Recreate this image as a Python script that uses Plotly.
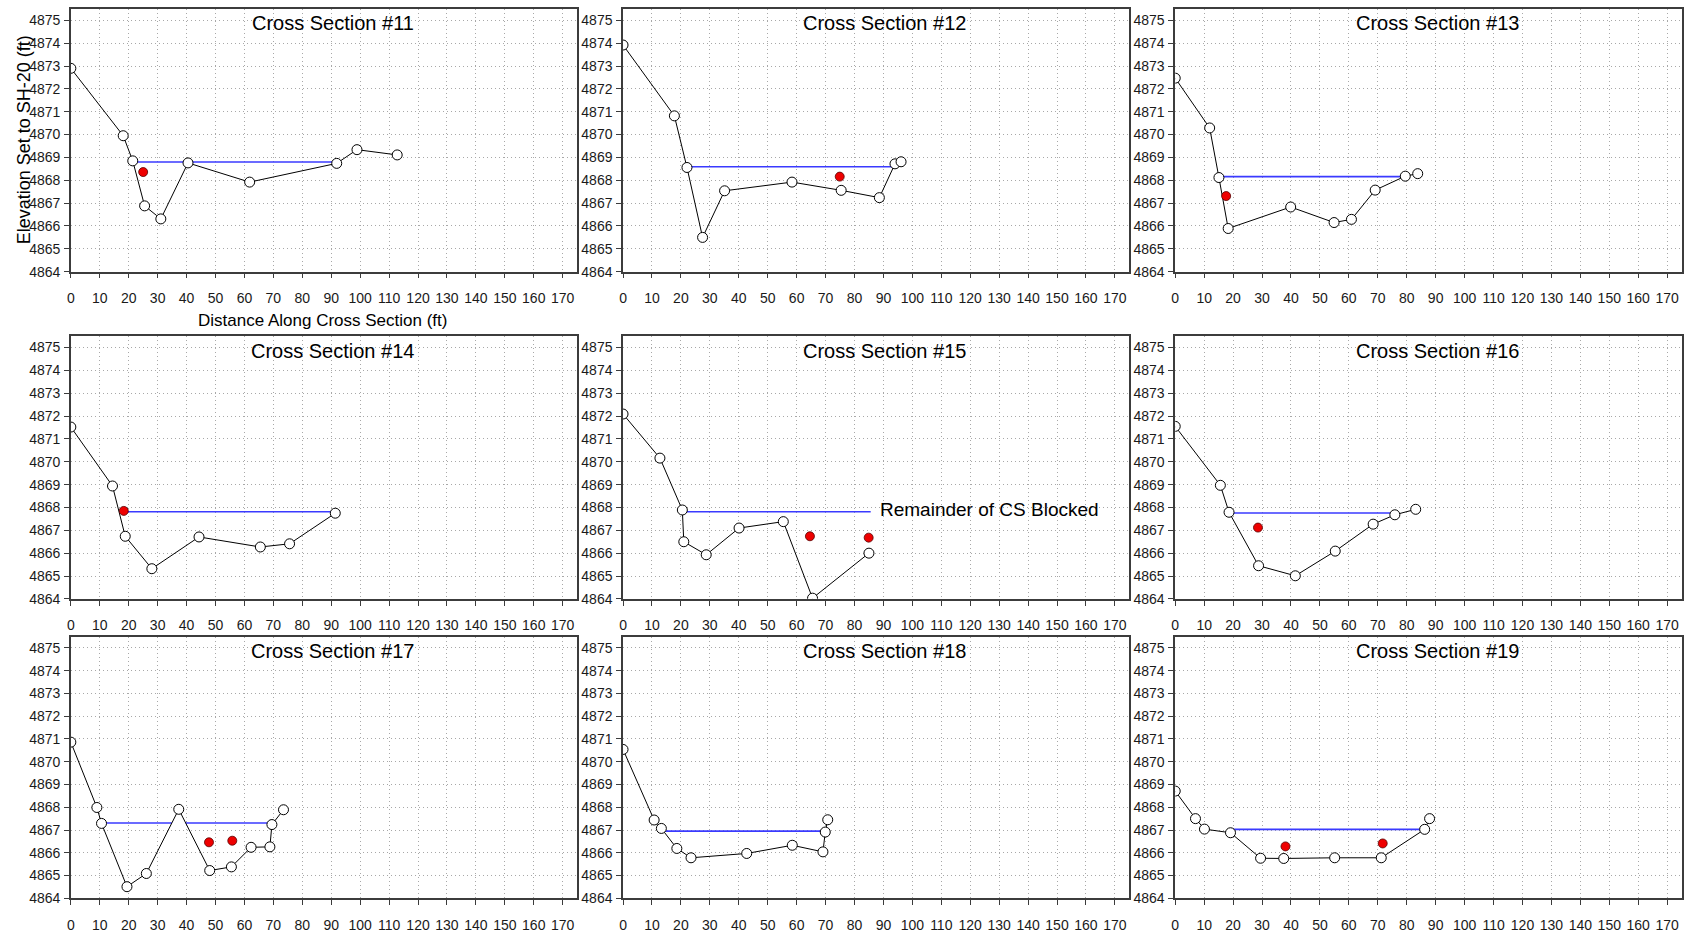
import plotly.graph_objects as go

# ---- survey data: station (ft) and ground elevation (ft) for each cross section ----
section_names = ["Cross Section #11", "Cross Section #12", "Cross Section #13",
                 "Cross Section #14", "Cross Section #15", "Cross Section #16",
                 "Cross Section #17", "Cross Section #18", "Cross Section #19"]

cs11_sta = [0, 18.1, 21.4, 25.5, 31.1, 40.5, 61.8, 91.9, 98.9, 112.8]
cs11_elev = [4872.9, 4869.95, 4868.85, 4866.88, 4866.31, 4868.76, 4867.92, 4868.74, 4869.34, 4869.11]

cs12_sta = [0, 17.75, 22.1, 27.5, 35.1, 58.4, 75.4, 88.6, 94.0, 96.1]
cs12_elev = [4873.92, 4870.82, 4868.56, 4865.5, 4867.54, 4867.92, 4867.56, 4867.24, 4868.72, 4868.81]

cs13_sta = [0, 11.9, 15.1, 18.3, 39.9, 54.9, 60.9, 69.1, 79.5, 83.8]
cs13_elev = [4872.47, 4870.29, 4868.12, 4865.89, 4866.83, 4866.15, 4866.29, 4867.57, 4868.18, 4868.29]

cs14_sta = [0, 14.4, 18.8, 28.0, 44.3, 65.5, 75.6, 91.4]
cs14_elev = [4871.52, 4868.94, 4866.74, 4865.32, 4866.71, 4866.27, 4866.41, 4867.75]

cs15_sta = [0, 12.75, 20.5, 21.0, 28.75, 40.1, 55.4, 65.5, 85.0]
cs15_elev = [4872.09, 4870.16, 4867.89, 4866.5, 4865.93, 4867.1, 4867.38, 4864.03, 4866.0]

cs16_sta = [0, 15.6, 18.6, 28.8, 41.5, 55.3, 68.4, 75.9, 83.1]
cs16_elev = [4871.55, 4868.97, 4867.79, 4865.45, 4865.01, 4866.09, 4867.27, 4867.68, 4867.92]

cs17_sta = [0, 9.0, 10.6, 19.4, 26.1, 37.3, 48.0, 55.5, 62.3, 68.8, 69.5, 73.5]
cs17_elev = [4870.86, 4867.99, 4867.29, 4864.51, 4865.09, 4867.91, 4865.22, 4865.38, 4866.24, 4866.26, 4867.24, 4867.89]

cs18_sta = [0, 10.75, 13.25, 18.6, 23.5, 42.75, 58.5, 69.1, 69.9, 70.75]
cs18_elev = [4870.54, 4867.44, 4867.07, 4866.19, 4865.78, 4865.97, 4866.33, 4866.04, 4866.91, 4867.45]

cs19_sta = [0, 7.0, 10.1, 19.1, 29.5, 37.5, 55.1, 71.2, 86.2, 87.9]
cs19_elev = [4868.71, 4867.5, 4867.04, 4866.88, 4865.76, 4865.75, 4865.78, 4865.78, 4867.03, 4867.5]

# ---- water surface: list of (start station, end station) spans and the elevation ----
ws11_span = [(22.3, 91.5)]
ws11_elev = 4868.8
ws12_span = [(22.1, 93.8)]
ws12_elev = 4868.59
ws13_span = [(15.4, 79.5)]
ws13_elev = 4868.16
ws14_span = [(18.5, 91.4)]
ws14_elev = 4867.81
ws15_span = [(20.8, 85.6)]
ws15_elev = 4867.81
ws16_span = [(18.6, 75.6)]
ws16_elev = 4867.76
ws17_span = [(10.6, 34.9), (39.7, 69.5)]
ws17_elev = 4867.31
ws18_span = [(14.0, 69.9)]
ws18_elev = 4866.95
ws19_span = [(19.5, 86.2)]
ws19_elev = 4867.03

# ---- measured points (red) ----
pt11_sta, pt11_elev = [25.0], [4868.36]
pt12_sta, pt12_elev = [74.9], [4868.16]
pt13_sta, pt13_elev = [17.6], [4867.31]
pt14_sta, pt14_elev = [18.3], [4867.85]
pt15_sta, pt15_elev = [64.6, 84.9], [4866.74, 4866.68]
pt16_sta, pt16_elev = [28.6], [4867.12]
pt17_sta, pt17_elev = [47.75, 55.8], [4866.46, 4866.53]
pt18_sta, pt18_elev = [], []
pt19_sta, pt19_elev = [38.1, 71.7], [4866.28, 4866.41]

x_ticks = list(range(0, 171, 10))
y_ticks = list(range(4864, 4876))

ground = [(cs11_sta, cs11_elev), (cs12_sta, cs12_elev), (cs13_sta, cs13_elev),
          (cs14_sta, cs14_elev), (cs15_sta, cs15_elev), (cs16_sta, cs16_elev),
          (cs17_sta, cs17_elev), (cs18_sta, cs18_elev), (cs19_sta, cs19_elev)]
water = [(ws11_span, ws11_elev), (ws12_span, ws12_elev), (ws13_span, ws13_elev),
         (ws14_span, ws14_elev), (ws15_span, ws15_elev), (ws16_span, ws16_elev),
         (ws17_span, ws17_elev), (ws18_span, ws18_elev), (ws19_span, ws19_elev)]
points = [(pt11_sta, pt11_elev), (pt12_sta, pt12_elev), (pt13_sta, pt13_elev),
          (pt14_sta, pt14_elev), (pt15_sta, pt15_elev), (pt16_sta, pt16_elev),
          (pt17_sta, pt17_elev), (pt18_sta, pt18_elev), (pt19_sta, pt19_elev)]

W, H = 1692, 941
col_px = [(67, 574.5), (620.5, 1128), (1174, 1681.6)]
row_px = [(9, 274), (339, 604), (642, 906)]

tick_font = dict(family="Liberation Sans Narrow, Arial Narrow, Liberation Sans, Arial",
                 size=14, color="#1a1a1a")
text_family = "Liberation Sans, Arial, sans-serif"

fig = go.Figure()
layout = dict(
    width=W, height=H, margin=dict(l=0, r=0, t=0, b=0),
    paper_bgcolor="white", plot_bgcolor="white", showlegend=False,
    annotations=[],
)

for i in range(9):
    r, c = divmod(i, 3)
    n = "" if i == 0 else str(i + 1)
    xa, ya = "x" + n, "y" + n
    x0, x1 = col_px[c]
    y0, y1 = row_px[r]

    axis_common = dict(
        showline=True, mirror=True, linecolor="#3c3c3c", linewidth=1.5,
        showgrid=True, gridcolor="#a8a8a8", griddash="1px,3px", gridwidth=1,
        ticks="outside", ticklen=5, tickcolor="#3c3c3c", tickwidth=1,
        tickfont=tick_font, zeroline=False, fixedrange=True,
    )
    layout["xaxis" + n] = dict(
        axis_common, domain=[x0 / W, x1 / W], anchor=ya, range=[0, 175],
        tickvals=x_ticks, ticklabelstandoff=8,
    )
    layout["yaxis" + n] = dict(
        axis_common, domain=[1 - y1 / H, 1 - y0 / H], anchor=xa, range=[4864, 4875.5],
        tickvals=y_ticks, ticklabelstandoff=1,
    )

    # water surface spans (drawn first so the ground line sits on top)
    spans, ws = water[i]
    wx, wy = [], []
    for a, b in spans:
        wx += [a, b, None]
        wy += [ws, ws, None]
    fig.add_trace(go.Scatter(x=wx, y=wy, xaxis=xa, yaxis=ya, mode="lines",
                             line=dict(color="#3a3aff", width=1.6), hoverinfo="skip"))

    sta, elev = ground[i]
    fig.add_trace(go.Scatter(x=sta, y=elev, xaxis=xa, yaxis=ya, mode="lines+markers",
                             line=dict(color="black", width=1),
                             marker=dict(symbol="circle", size=10, color="white",
                                         line=dict(color="black", width=1))))

    px, py = points[i]
    if px:
        fig.add_trace(go.Scatter(x=px, y=py, xaxis=xa, yaxis=ya, mode="markers",
                                 marker=dict(symbol="circle", size=9, color="#ee0000",
                                             line=dict(color="#550000", width=0.8))))

    layout["annotations"].append(dict(
        text=section_names[i], xref=xa + " domain", yref=ya + " domain",
        x=0.517, y=0.945, xanchor="center", yanchor="middle", showarrow=False,
        font=dict(family=text_family, size=20, color="black"),
    ))

# note on cross section #15
layout["annotations"].append(dict(
    text="Remainder of CS Blocked", xref="x5", yref="y5", x=88.0, y=4867.92,
    xanchor="left", yanchor="middle", showarrow=False,
    font=dict(family=text_family, size=19, color="black"),
))

# axis titles shown on the first panel
layout["annotations"].append(dict(
    text="Elevation Set to SH-20 (ft)", xref="paper", yref="paper",
    x=19.5 / W, y=1 - 141 / H, xanchor="center", yanchor="middle", textangle=-90,
    showarrow=False, font=dict(family=text_family, size=18, color="black"),
))
layout["annotations"].append(dict(
    text="Distance Along Cross Section (ft)", xref="paper", yref="paper",
    x=319 / W, y=1 - 323.5 / H, xanchor="center", yanchor="middle",
    showarrow=False, font=dict(family=text_family, size=17, color="black"),
))

fig.update_layout(**layout)
fig.write_html("out.html")
